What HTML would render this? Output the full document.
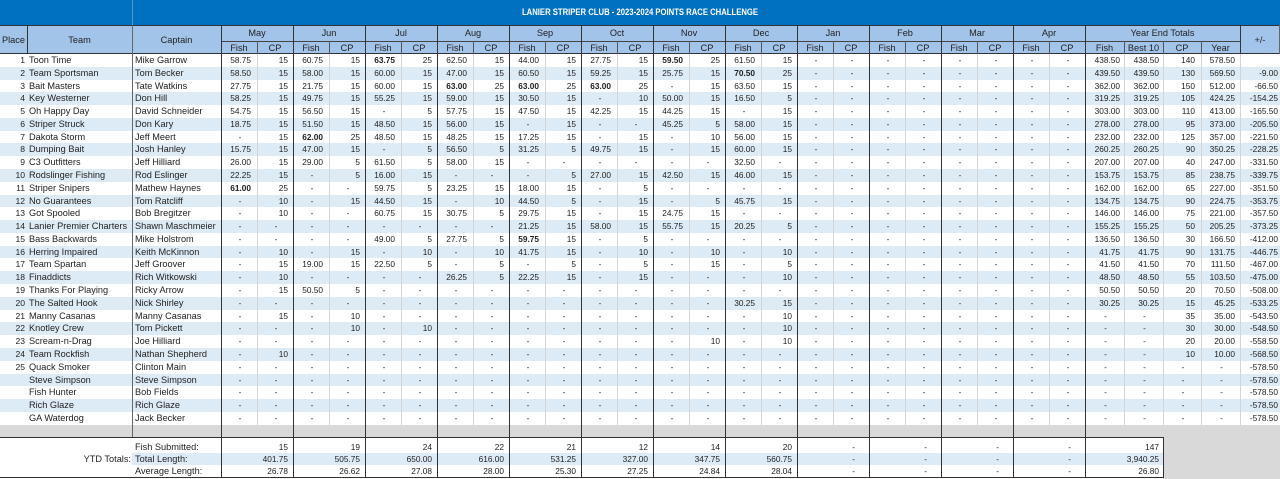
<!DOCTYPE html>
<html><head><meta charset="utf-8">
<style>
*{box-sizing:border-box;margin:0;padding:0}
body{width:1280px;height:479px;position:relative;overflow:hidden;background:#fff;font-family:"Liberation Sans",Arial,sans-serif;color:#222}
.title{position:absolute;left:0;top:0;width:1280px;height:25px;background:#0070C0}
.title span{position:absolute;left:0;width:1280px;top:7px;text-align:center;color:#fff;font-weight:bold;font-size:9px;line-height:11px;transform:scaleX(.855);white-space:nowrap}
.hbg{position:absolute;left:0;top:25px;width:1280px;height:29px;background:#A2C4E9}
.h{position:absolute;display:flex;align-items:center;justify-content:center;font-size:9.2px;color:#222;white-space:nowrap}
.r{position:absolute;left:0;width:1280px;height:12.78px;display:flex}
.r.s{background:#DDEBF7}
.r>*{display:block;flex:none;height:100%;line-height:13px;font-size:8.3px;text-align:right;font-style:normal;text-decoration:none;white-space:nowrap;overflow:hidden;width:36px}
.r>*:nth-child(2n+4){padding-right:6px}
.r>*:nth-child(2n+5){padding-right:5px}
.r>*:nth-child(1){width:27px;padding-right:2px;font-size:8.6px}
.r>*:nth-child(2){width:105px;text-align:left;padding-left:2px;font-size:9.2px}
.r>*:nth-child(3){width:89px;text-align:left;padding-left:3px;font-size:9.2px}
.r>*:nth-child(28){width:39px;padding-right:4px}
.r>*:nth-child(29){width:39px;padding-right:4px}
.r>*:nth-child(30){width:38px;padding-right:6px}
.r>*:nth-child(31){width:39px;padding-right:5px}
.r>*:nth-child(32){width:40px;padding-right:2px}
.r>u{text-align:center!important;padding:0 0 0 2px!important}
.b{font-weight:bold}
.v{position:absolute;width:1px;background:#333}
.g{position:absolute;width:1px;background:#D4D4D4}
.hl{position:absolute;height:1px;background:#333}
.fr{position:absolute;left:0;height:12px;display:flex;font-size:8.3px;line-height:12px}
.fr>*{flex:none;font-style:normal;text-decoration:none;text-align:right;width:72px;padding-right:5px;white-space:nowrap}
.fr>*:nth-child(1){width:132px;padding-right:1px;font-size:9.2px}
.fr>*:nth-child(2){width:89px;text-align:left;padding-left:3px;padding-right:0;font-size:9.2px}
.fr>*:nth-child(n+11){padding-right:14px}
.fr>*:nth-child(15){width:78px;padding-right:4px}
</style></head><body>

<div class="title"><span>LANIER STRIPER CLUB - 2023-2024 POINTS RACE CHALLENGE</span></div>
<div class="v" style="left:132px;top:0;height:25px;background:rgba(255,255,255,.3)"></div>

<div class="hbg"></div>
<div class="h" style="left:0;top:25px;width:27px;height:29px">Place</div>
<div class="h" style="left:27px;top:25px;width:105px;height:29px">Team</div>
<div class="h" style="left:132px;top:25px;width:89px;height:29px">Captain</div>
<div class="h" style="left:221px;top:25px;width:72px;height:16px">May</div>
<div class="h" style="left:293px;top:25px;width:72px;height:16px">Jun</div>
<div class="h" style="left:365px;top:25px;width:72px;height:16px">Jul</div>
<div class="h" style="left:437px;top:25px;width:72px;height:16px">Aug</div>
<div class="h" style="left:509px;top:25px;width:72px;height:16px">Sep</div>
<div class="h" style="left:581px;top:25px;width:72px;height:16px">Oct</div>
<div class="h" style="left:653px;top:25px;width:72px;height:16px">Nov</div>
<div class="h" style="left:725px;top:25px;width:72px;height:16px">Dec</div>
<div class="h" style="left:797px;top:25px;width:72px;height:16px">Jan</div>
<div class="h" style="left:869px;top:25px;width:72px;height:16px">Feb</div>
<div class="h" style="left:941px;top:25px;width:72px;height:16px">Mar</div>
<div class="h" style="left:1013px;top:25px;width:72px;height:16px">Apr</div>
<div class="h" style="left:1085px;top:25px;width:155px;height:16px">Year End Totals</div>
<div class="h" style="left:1240px;top:25px;width:40px;height:29px">+/-</div>

<div class="h" style="left:221px;top:41px;width:36px;height:13px">Fish</div><div class="h" style="left:257px;top:41px;width:36px;height:13px">CP</div>
<div class="h" style="left:293px;top:41px;width:36px;height:13px">Fish</div><div class="h" style="left:329px;top:41px;width:36px;height:13px">CP</div>
<div class="h" style="left:365px;top:41px;width:36px;height:13px">Fish</div><div class="h" style="left:401px;top:41px;width:36px;height:13px">CP</div>
<div class="h" style="left:437px;top:41px;width:36px;height:13px">Fish</div><div class="h" style="left:473px;top:41px;width:36px;height:13px">CP</div>
<div class="h" style="left:509px;top:41px;width:36px;height:13px">Fish</div><div class="h" style="left:545px;top:41px;width:36px;height:13px">CP</div>
<div class="h" style="left:581px;top:41px;width:36px;height:13px">Fish</div><div class="h" style="left:617px;top:41px;width:36px;height:13px">CP</div>
<div class="h" style="left:653px;top:41px;width:36px;height:13px">Fish</div><div class="h" style="left:689px;top:41px;width:36px;height:13px">CP</div>
<div class="h" style="left:725px;top:41px;width:36px;height:13px">Fish</div><div class="h" style="left:761px;top:41px;width:36px;height:13px">CP</div>
<div class="h" style="left:797px;top:41px;width:36px;height:13px">Fish</div><div class="h" style="left:833px;top:41px;width:36px;height:13px">CP</div>
<div class="h" style="left:869px;top:41px;width:36px;height:13px">Fish</div><div class="h" style="left:905px;top:41px;width:36px;height:13px">CP</div>
<div class="h" style="left:941px;top:41px;width:36px;height:13px">Fish</div><div class="h" style="left:977px;top:41px;width:36px;height:13px">CP</div>
<div class="h" style="left:1013px;top:41px;width:36px;height:13px">Fish</div><div class="h" style="left:1049px;top:41px;width:36px;height:13px">CP</div>
<div class="h" style="left:1085px;top:41px;width:39px;height:13px">Fish</div>
<div class="h" style="left:1124px;top:41px;width:39px;height:13px">Best 10</div>
<div class="h" style="left:1163px;top:41px;width:38px;height:13px">CP</div>
<div class="h" style="left:1201px;top:41px;width:39px;height:13px">Year</div>

<div class="r" style="top:54px"><i>1</i><i>Toon Time</i><i>Mike Garrow</i><i>58.75</i><i>15</i><i>60.75</i><i>15</i><i class="b">63.75</i><i>25</i><i>62.50</i><i>15</i><i>44.00</i><i>15</i><i>27.75</i><i>15</i><i class="b">59.50</i><i>25</i><i>61.50</i><i>15</i><u>-</u><u>-</u><u>-</u><u>-</u><u>-</u><u>-</u><u>-</u><u>-</u><i>438.50</i><i>438.50</i><i>140</i><i>578.50</i><i></i></div>
<div class="r s" style="top:66.78px"><i>2</i><i>Team Sportsman</i><i>Tom Becker</i><i>58.50</i><i>15</i><i>58.00</i><i>15</i><i>60.00</i><i>15</i><i>47.00</i><i>15</i><i>60.50</i><i>15</i><i>59.25</i><i>15</i><i>25.75</i><i>15</i><i class="b">70.50</i><i>25</i><u>-</u><u>-</u><u>-</u><u>-</u><u>-</u><u>-</u><u>-</u><u>-</u><i>439.50</i><i>439.50</i><i>130</i><i>569.50</i><i>-9.00</i></div>
<div class="r" style="top:79.56px"><i>3</i><i>Bait Masters</i><i>Tate Watkins</i><i>27.75</i><i>15</i><i>21.75</i><i>15</i><i>60.00</i><i>15</i><i class="b">63.00</i><i>25</i><i class="b">63.00</i><i>25</i><i class="b">63.00</i><i>25</i><u>-</u><i>15</i><i>63.50</i><i>15</i><u>-</u><u>-</u><u>-</u><u>-</u><u>-</u><u>-</u><u>-</u><u>-</u><i>362.00</i><i>362.00</i><i>150</i><i>512.00</i><i>-66.50</i></div>
<div class="r s" style="top:92.34px"><i>4</i><i>Key Westerner</i><i>Don Hill</i><i>58.25</i><i>15</i><i>49.75</i><i>15</i><i>55.25</i><i>15</i><i>59.00</i><i>15</i><i>30.50</i><i>15</i><u>-</u><i>10</i><i>50.00</i><i>15</i><i>16.50</i><i>5</i><u>-</u><u>-</u><u>-</u><u>-</u><u>-</u><u>-</u><u>-</u><u>-</u><i>319.25</i><i>319.25</i><i>105</i><i>424.25</i><i>-154.25</i></div>
<div class="r" style="top:105.12px"><i>5</i><i>Oh Happy Day</i><i>David Schneider</i><i>54.75</i><i>15</i><i>56.50</i><i>15</i><u>-</u><i>5</i><i>57.75</i><i>15</i><i>47.50</i><i>15</i><i>42.25</i><i>15</i><i>44.25</i><i>15</i><u>-</u><i>15</i><u>-</u><u>-</u><u>-</u><u>-</u><u>-</u><u>-</u><u>-</u><u>-</u><i>303.00</i><i>303.00</i><i>110</i><i>413.00</i><i>-165.50</i></div>
<div class="r s" style="top:117.9px"><i>6</i><i>Striper Struck</i><i>Don Kary</i><i>18.75</i><i>15</i><i>51.50</i><i>15</i><i>48.50</i><i>15</i><i>56.00</i><i>15</i><u>-</u><i>15</i><u>-</u><u>-</u><i>45.25</i><i>5</i><i>58.00</i><i>15</i><u>-</u><u>-</u><u>-</u><u>-</u><u>-</u><u>-</u><u>-</u><u>-</u><i>278.00</i><i>278.00</i><i>95</i><i>373.00</i><i>-205.50</i></div>
<div class="r" style="top:130.68px"><i>7</i><i>Dakota Storm</i><i>Jeff Meert</i><u>-</u><i>15</i><i class="b">62.00</i><i>25</i><i>48.50</i><i>15</i><i>48.25</i><i>15</i><i>17.25</i><i>15</i><u>-</u><i>15</i><u>-</u><i>10</i><i>56.00</i><i>15</i><u>-</u><u>-</u><u>-</u><u>-</u><u>-</u><u>-</u><u>-</u><u>-</u><i>232.00</i><i>232.00</i><i>125</i><i>357.00</i><i>-221.50</i></div>
<div class="r s" style="top:143.46px"><i>8</i><i>Dumping Bait</i><i>Josh Hanley</i><i>15.75</i><i>15</i><i>47.00</i><i>15</i><u>-</u><i>5</i><i>56.50</i><i>5</i><i>31.25</i><i>5</i><i>49.75</i><i>15</i><u>-</u><i>15</i><i>60.00</i><i>15</i><u>-</u><u>-</u><u>-</u><u>-</u><u>-</u><u>-</u><u>-</u><u>-</u><i>260.25</i><i>260.25</i><i>90</i><i>350.25</i><i>-228.25</i></div>
<div class="r" style="top:156.24px"><i>9</i><i>C3 Outfitters</i><i>Jeff Hilliard</i><i>26.00</i><i>15</i><i>29.00</i><i>5</i><i>61.50</i><i>5</i><i>58.00</i><i>15</i><u>-</u><u>-</u><u>-</u><u>-</u><u>-</u><u>-</u><i>32.50</i><u>-</u><u>-</u><u>-</u><u>-</u><u>-</u><u>-</u><u>-</u><u>-</u><u>-</u><i>207.00</i><i>207.00</i><i>40</i><i>247.00</i><i>-331.50</i></div>
<div class="r s" style="top:169.02px"><i>10</i><i>Rodslinger Fishing</i><i>Rod Eslinger</i><i>22.25</i><i>15</i><u>-</u><i>5</i><i>16.00</i><i>15</i><u>-</u><u>-</u><u>-</u><i>5</i><i>27.00</i><i>15</i><i>42.50</i><i>15</i><i>46.00</i><i>15</i><u>-</u><u>-</u><u>-</u><u>-</u><u>-</u><u>-</u><u>-</u><u>-</u><i>153.75</i><i>153.75</i><i>85</i><i>238.75</i><i>-339.75</i></div>
<div class="r" style="top:181.8px"><i>11</i><i>Striper Snipers</i><i>Mathew Haynes</i><i class="b">61.00</i><i>25</i><u>-</u><u>-</u><i>59.75</i><i>5</i><i>23.25</i><i>15</i><i>18.00</i><i>15</i><u>-</u><i>5</i><u>-</u><u>-</u><u>-</u><u>-</u><u>-</u><u>-</u><u>-</u><u>-</u><u>-</u><u>-</u><u>-</u><u>-</u><i>162.00</i><i>162.00</i><i>65</i><i>227.00</i><i>-351.50</i></div>
<div class="r s" style="top:194.58px"><i>12</i><i>No Guarantees</i><i>Tom Ratcliff</i><u>-</u><i>10</i><u>-</u><i>15</i><i>44.50</i><i>15</i><u>-</u><i>10</i><i>44.50</i><i>5</i><u>-</u><i>15</i><u>-</u><i>5</i><i>45.75</i><i>15</i><u>-</u><u>-</u><u>-</u><u>-</u><u>-</u><u>-</u><u>-</u><u>-</u><i>134.75</i><i>134.75</i><i>90</i><i>224.75</i><i>-353.75</i></div>
<div class="r" style="top:207.36px"><i>13</i><i>Got Spooled</i><i>Bob Bregitzer</i><u>-</u><i>10</i><u>-</u><u>-</u><i>60.75</i><i>15</i><i>30.75</i><i>5</i><i>29.75</i><i>15</i><u>-</u><i>15</i><i>24.75</i><i>15</i><u>-</u><u>-</u><u>-</u><u>-</u><u>-</u><u>-</u><u>-</u><u>-</u><u>-</u><u>-</u><i>146.00</i><i>146.00</i><i>75</i><i>221.00</i><i>-357.50</i></div>
<div class="r s" style="top:220.14px"><i>14</i><i>Lanier Premier Charters</i><i>Shawn Maschmeier</i><u>-</u><u>-</u><u>-</u><u>-</u><u>-</u><u>-</u><u>-</u><u>-</u><i>21.25</i><i>15</i><i>58.00</i><i>15</i><i>55.75</i><i>15</i><i>20.25</i><i>5</i><u>-</u><u>-</u><u>-</u><u>-</u><u>-</u><u>-</u><u>-</u><u>-</u><i>155.25</i><i>155.25</i><i>50</i><i>205.25</i><i>-373.25</i></div>
<div class="r" style="top:232.92px"><i>15</i><i>Bass Backwards</i><i>Mike Holstrom</i><u>-</u><u>-</u><u>-</u><u>-</u><i>49.00</i><i>5</i><i>27.75</i><i>5</i><i class="b">59.75</i><i>15</i><u>-</u><i>5</i><u>-</u><u>-</u><u>-</u><u>-</u><u>-</u><u>-</u><u>-</u><u>-</u><u>-</u><u>-</u><u>-</u><u>-</u><i>136.50</i><i>136.50</i><i>30</i><i>166.50</i><i>-412.00</i></div>
<div class="r s" style="top:245.7px"><i>16</i><i>Herring Impaired</i><i>Keith McKinnon</i><u>-</u><i>10</i><u>-</u><i>15</i><u>-</u><i>10</i><u>-</u><i>10</i><i>41.75</i><i>15</i><u>-</u><i>10</i><u>-</u><i>10</i><u>-</u><i>10</i><u>-</u><u>-</u><u>-</u><u>-</u><u>-</u><u>-</u><u>-</u><u>-</u><i>41.75</i><i>41.75</i><i>90</i><i>131.75</i><i>-446.75</i></div>
<div class="r" style="top:258.48px"><i>17</i><i>Team Spartan</i><i>Jeff Groover</i><u>-</u><i>15</i><i>19.00</i><i>15</i><i>22.50</i><i>5</i><u>-</u><i>5</i><u>-</u><i>5</i><u>-</u><i>5</i><u>-</u><i>15</i><u>-</u><i>5</i><u>-</u><u>-</u><u>-</u><u>-</u><u>-</u><u>-</u><u>-</u><u>-</u><i>41.50</i><i>41.50</i><i>70</i><i>111.50</i><i>-467.00</i></div>
<div class="r s" style="top:271.26px"><i>18</i><i>Finaddicts</i><i>Rich Witkowski</i><u>-</u><i>10</i><u>-</u><u>-</u><u>-</u><u>-</u><i>26.25</i><i>5</i><i>22.25</i><i>15</i><u>-</u><i>15</i><u>-</u><u>-</u><u>-</u><i>10</i><u>-</u><u>-</u><u>-</u><u>-</u><u>-</u><u>-</u><u>-</u><u>-</u><i>48.50</i><i>48.50</i><i>55</i><i>103.50</i><i>-475.00</i></div>
<div class="r" style="top:284.04px"><i>19</i><i>Thanks For Playing</i><i>Ricky Arrow</i><u>-</u><i>15</i><i>50.50</i><i>5</i><u>-</u><u>-</u><u>-</u><u>-</u><u>-</u><u>-</u><u>-</u><u>-</u><u>-</u><u>-</u><u>-</u><u>-</u><u>-</u><u>-</u><u>-</u><u>-</u><u>-</u><u>-</u><u>-</u><u>-</u><i>50.50</i><i>50.50</i><i>20</i><i>70.50</i><i>-508.00</i></div>
<div class="r s" style="top:296.82px"><i>20</i><i>The Salted Hook</i><i>Nick Shirley</i><u>-</u><u>-</u><u>-</u><u>-</u><u>-</u><u>-</u><u>-</u><u>-</u><u>-</u><u>-</u><u>-</u><u>-</u><u>-</u><u>-</u><i>30.25</i><i>15</i><u>-</u><u>-</u><u>-</u><u>-</u><u>-</u><u>-</u><u>-</u><u>-</u><i>30.25</i><i>30.25</i><i>15</i><i>45.25</i><i>-533.25</i></div>
<div class="r" style="top:309.6px"><i>21</i><i>Manny Casanas</i><i>Manny Casanas</i><u>-</u><i>15</i><u>-</u><i>10</i><u>-</u><u>-</u><u>-</u><u>-</u><u>-</u><u>-</u><u>-</u><u>-</u><u>-</u><u>-</u><u>-</u><i>10</i><u>-</u><u>-</u><u>-</u><u>-</u><u>-</u><u>-</u><u>-</u><u>-</u><u>-</u><u>-</u><i>35</i><i>35.00</i><i>-543.50</i></div>
<div class="r s" style="top:322.38px"><i>22</i><i>Knotley Crew</i><i>Tom Pickett</i><u>-</u><u>-</u><u>-</u><i>10</i><u>-</u><i>10</i><u>-</u><u>-</u><u>-</u><u>-</u><u>-</u><u>-</u><u>-</u><u>-</u><u>-</u><i>10</i><u>-</u><u>-</u><u>-</u><u>-</u><u>-</u><u>-</u><u>-</u><u>-</u><u>-</u><u>-</u><i>30</i><i>30.00</i><i>-548.50</i></div>
<div class="r" style="top:335.16px"><i>23</i><i>Scream-n-Drag</i><i>Joe Hilliard</i><u>-</u><u>-</u><u>-</u><u>-</u><u>-</u><u>-</u><u>-</u><u>-</u><u>-</u><u>-</u><u>-</u><u>-</u><u>-</u><i>10</i><u>-</u><i>10</i><u>-</u><u>-</u><u>-</u><u>-</u><u>-</u><u>-</u><u>-</u><u>-</u><u>-</u><u>-</u><i>20</i><i>20.00</i><i>-558.50</i></div>
<div class="r s" style="top:347.94px"><i>24</i><i>Team Rockfish</i><i>Nathan Shepherd</i><u>-</u><i>10</i><u>-</u><u>-</u><u>-</u><u>-</u><u>-</u><u>-</u><u>-</u><u>-</u><u>-</u><u>-</u><u>-</u><u>-</u><u>-</u><u>-</u><u>-</u><u>-</u><u>-</u><u>-</u><u>-</u><u>-</u><u>-</u><u>-</u><u>-</u><u>-</u><i>10</i><i>10.00</i><i>-568.50</i></div>
<div class="r" style="top:360.72px"><i>25</i><i>Quack Smoker</i><i>Clinton Main</i><u>-</u><u>-</u><u>-</u><u>-</u><u>-</u><u>-</u><u>-</u><u>-</u><u>-</u><u>-</u><u>-</u><u>-</u><u>-</u><u>-</u><u>-</u><u>-</u><u>-</u><u>-</u><u>-</u><u>-</u><u>-</u><u>-</u><u>-</u><u>-</u><u>-</u><u>-</u><u>-</u><u>-</u><i>-578.50</i></div>
<div class="r s" style="top:373.5px"><i></i><i>Steve Simpson</i><i>Steve Simpson</i><u>-</u><u>-</u><u>-</u><u>-</u><u>-</u><u>-</u><u>-</u><u>-</u><u>-</u><u>-</u><u>-</u><u>-</u><u>-</u><u>-</u><u>-</u><u>-</u><u>-</u><u>-</u><u>-</u><u>-</u><u>-</u><u>-</u><u>-</u><u>-</u><u>-</u><u>-</u><u>-</u><u>-</u><i>-578.50</i></div>
<div class="r" style="top:386.28px"><i></i><i>Fish Hunter</i><i>Bob Fields</i><u>-</u><u>-</u><u>-</u><u>-</u><u>-</u><u>-</u><u>-</u><u>-</u><u>-</u><u>-</u><u>-</u><u>-</u><u>-</u><u>-</u><u>-</u><u>-</u><u>-</u><u>-</u><u>-</u><u>-</u><u>-</u><u>-</u><u>-</u><u>-</u><u>-</u><u>-</u><u>-</u><u>-</u><i>-578.50</i></div>
<div class="r s" style="top:399.06px"><i></i><i>Rich Glaze</i><i>Rich Glaze</i><u>-</u><u>-</u><u>-</u><u>-</u><u>-</u><u>-</u><u>-</u><u>-</u><u>-</u><u>-</u><u>-</u><u>-</u><u>-</u><u>-</u><u>-</u><u>-</u><u>-</u><u>-</u><u>-</u><u>-</u><u>-</u><u>-</u><u>-</u><u>-</u><u>-</u><u>-</u><u>-</u><u>-</u><i>-578.50</i></div>
<div class="r" style="top:411.84px"><i></i><i>GA Waterdog</i><i>Jack Becker</i><u>-</u><u>-</u><u>-</u><u>-</u><u>-</u><u>-</u><u>-</u><u>-</u><u>-</u><u>-</u><u>-</u><u>-</u><u>-</u><u>-</u><u>-</u><u>-</u><u>-</u><u>-</u><u>-</u><u>-</u><u>-</u><u>-</u><u>-</u><u>-</u><u>-</u><u>-</u><u>-</u><u>-</u><i>-578.50</i></div>

<!-- footer backgrounds -->
<div style="position:absolute;left:0;top:425px;width:1280px;height:12px;background:#D9D9D9"></div>
<div style="position:absolute;left:1163px;top:437px;width:117px;height:42px;background:#D9D9D9"></div>
<div style="position:absolute;left:132px;top:453px;width:1031px;height:12px;background:#DDEBF7"></div>

<div class="fr" style="top:441px"><i></i><i>Fish Submitted:</i><i>15</i><i>19</i><i>24</i><i>22</i><i>21</i><i>12</i><i>14</i><i>20</i><i>-</i><i>-</i><i>-</i><i>-</i><i>147</i></div>
<div class="fr" style="top:453px"><i>YTD Totals:</i><i>Total Length:</i><i>401.75</i><i>505.75</i><i>650.00</i><i>616.00</i><i>531.25</i><i>327.00</i><i>347.75</i><i>560.75</i><i>-</i><i>-</i><i>-</i><i>-</i><i>3,940.25</i></div>
<div class="fr" style="top:465px"><i></i><i>Average Length:</i><i>26.78</i><i>26.62</i><i>27.08</i><i>28.00</i><i>25.30</i><i>27.25</i><i>24.84</i><i>28.04</i><i>-</i><i>-</i><i>-</i><i>-</i><i>26.80</i></div>

<!-- header lines -->
<div class="hl" style="left:0;top:25px;width:1280px"></div>
<div class="hl" style="left:221px;top:41px;width:1019px;background:#444"></div>
<div class="hl" style="left:0;top:53px;width:1280px"></div>
<div class="v" style="left:27px;top:25px;height:29px"></div>
<div class="v" style="left:132px;top:25px;height:412px;background:#666"></div>
<div class="v" style="left:1279px;top:25px;height:29px;background:#666"></div>

<!-- month boundaries -->
<div class="v" style="left:221px;top:25px;height:452px"></div>
<div class="v" style="left:293px;top:25px;height:452px"></div>
<div class="v" style="left:365px;top:25px;height:452px"></div>
<div class="v" style="left:437px;top:25px;height:452px"></div>
<div class="v" style="left:509px;top:25px;height:452px"></div>
<div class="v" style="left:581px;top:25px;height:452px"></div>
<div class="v" style="left:653px;top:25px;height:452px"></div>
<div class="v" style="left:725px;top:25px;height:452px"></div>
<div class="v" style="left:797px;top:25px;height:452px"></div>
<div class="v" style="left:869px;top:25px;height:452px"></div>
<div class="v" style="left:941px;top:25px;height:452px"></div>
<div class="v" style="left:1013px;top:25px;height:452px"></div>
<div class="v" style="left:1085px;top:25px;height:452px"></div>

<!-- fish/cp splits header -->
<div class="v" style="left:257px;top:41px;height:13px;background:#555"></div>
<div class="v" style="left:329px;top:41px;height:13px;background:#555"></div>
<div class="v" style="left:401px;top:41px;height:13px;background:#555"></div>
<div class="v" style="left:473px;top:41px;height:13px;background:#555"></div>
<div class="v" style="left:545px;top:41px;height:13px;background:#555"></div>
<div class="v" style="left:617px;top:41px;height:13px;background:#555"></div>
<div class="v" style="left:689px;top:41px;height:13px;background:#555"></div>
<div class="v" style="left:761px;top:41px;height:13px;background:#555"></div>
<div class="v" style="left:833px;top:41px;height:13px;background:#555"></div>
<div class="v" style="left:905px;top:41px;height:13px;background:#555"></div>
<div class="v" style="left:977px;top:41px;height:13px;background:#555"></div>
<div class="v" style="left:1049px;top:41px;height:13px;background:#555"></div>
<div class="v" style="left:1124px;top:41px;height:13px;background:#555"></div>
<div class="v" style="left:1163px;top:41px;height:13px;background:#555"></div>
<div class="v" style="left:1201px;top:41px;height:13px;background:#555"></div>
<div class="v" style="left:1240px;top:25px;height:29px"></div>

<!-- light data gridlines -->
<div class="g" style="left:257px;top:54px;height:371px"></div>
<div class="g" style="left:329px;top:54px;height:371px"></div>
<div class="g" style="left:401px;top:54px;height:371px"></div>
<div class="g" style="left:473px;top:54px;height:371px"></div>
<div class="g" style="left:545px;top:54px;height:371px"></div>
<div class="g" style="left:617px;top:54px;height:371px"></div>
<div class="g" style="left:689px;top:54px;height:371px"></div>
<div class="g" style="left:761px;top:54px;height:371px"></div>
<div class="g" style="left:833px;top:54px;height:371px"></div>
<div class="g" style="left:905px;top:54px;height:371px"></div>
<div class="g" style="left:977px;top:54px;height:371px"></div>
<div class="g" style="left:1049px;top:54px;height:371px"></div>
<div class="g" style="left:1124px;top:54px;height:371px"></div>
<div class="g" style="left:1163px;top:54px;height:371px"></div>
<div class="g" style="left:1201px;top:54px;height:371px"></div>
<div class="g" style="left:1240px;top:54px;height:371px"></div>

<!-- footer lines -->
<div class="hl" style="left:0;top:437px;width:1164px"></div>
<div class="hl" style="left:0;top:477px;width:1164px"></div>
<div class="v" style="left:1163px;top:437px;height:41px"></div>

</body></html>
